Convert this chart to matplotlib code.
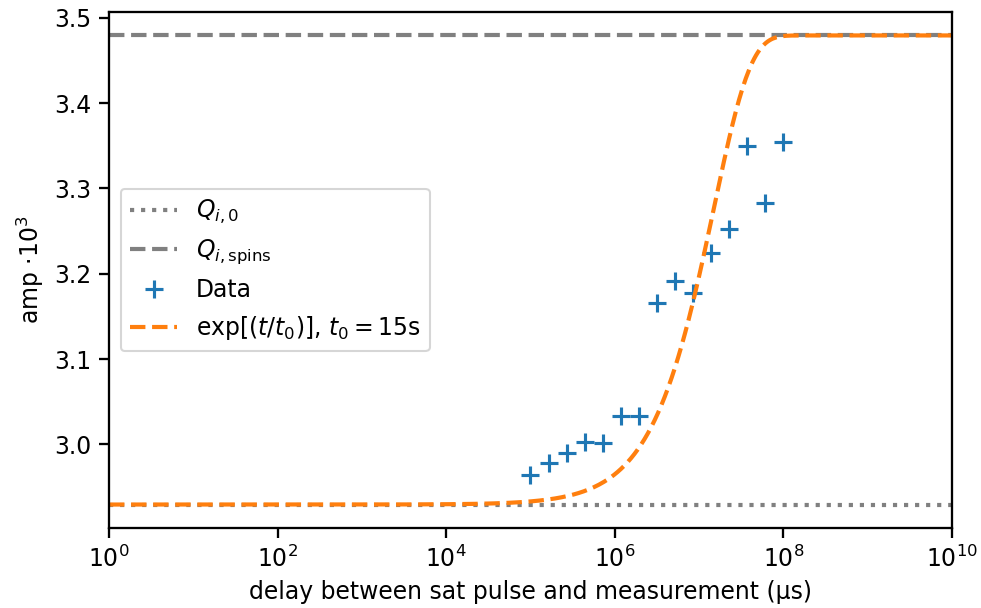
import numpy as np
import matplotlib
matplotlib.use("Agg")
import matplotlib.pyplot as plt

# data
delay_us = [1.0e5, 1.638e5, 2.683e5, 4.394e5, 7.197e5, 1.179e6, 1.931e6, 3.162e6,
            5.18e6, 8.483e6, 1.389e7, 2.276e7, 3.728e7, 6.105e7, 1.0e8]
amp = [2.9637, 2.9781, 2.9903, 3.0027, 3.0015, 3.0331, 3.0331, 3.1662,
       3.1911, 3.1779, 3.2247, 3.2524, 3.3499, 3.2832, 3.3549]

q_i0 = 2.9294
q_spins = 3.4794
t0_us = 15e6

t = np.logspace(0, 10, 500)
fit = q_i0 + (q_spins - q_i0) * (1 - np.exp(-t / t0_us))

plt.rcParams['font.size'] = 11.3
plt.rcParams['axes.linewidth'] = 1.1
for a in ('xtick', 'ytick'):
    plt.rcParams[a + '.major.size'] = 4.8
    plt.rcParams[a + '.major.width'] = 1.1

fig = plt.figure(figsize=(981 / 150, 608 / 150), dpi=150)
ax = fig.add_axes([0.1111, 0.1316, 0.8593, 0.8487])

ax.axhline(q_i0, color='gray', ls=':', lw=2, label=r'$Q_{i,0}$')
ax.axhline(q_spins, color='gray', ls='--', lw=2, label=r'$Q_{i,\mathrm{spins}}$')
ax.plot(delay_us, amp, '+', color='C0', ms=9, mew=1.5, label='Data')
ax.plot(t, fit, '--', color='C1', lw=2, label=r'$\exp[(t/t_0)]$, $t_0 = 15$s')

ax.set_xscale('log')
ax.set_xlim(1e0, 1e10)
ax.xaxis.set_minor_locator(matplotlib.ticker.NullLocator())
ax.set_xlabel('delay between sat pulse and measurement (µs)')
ax.set_ylabel(r'amp $\cdot 10^3$')
ax.legend(loc='center left')

fig.savefig('out.png', dpi=150)
